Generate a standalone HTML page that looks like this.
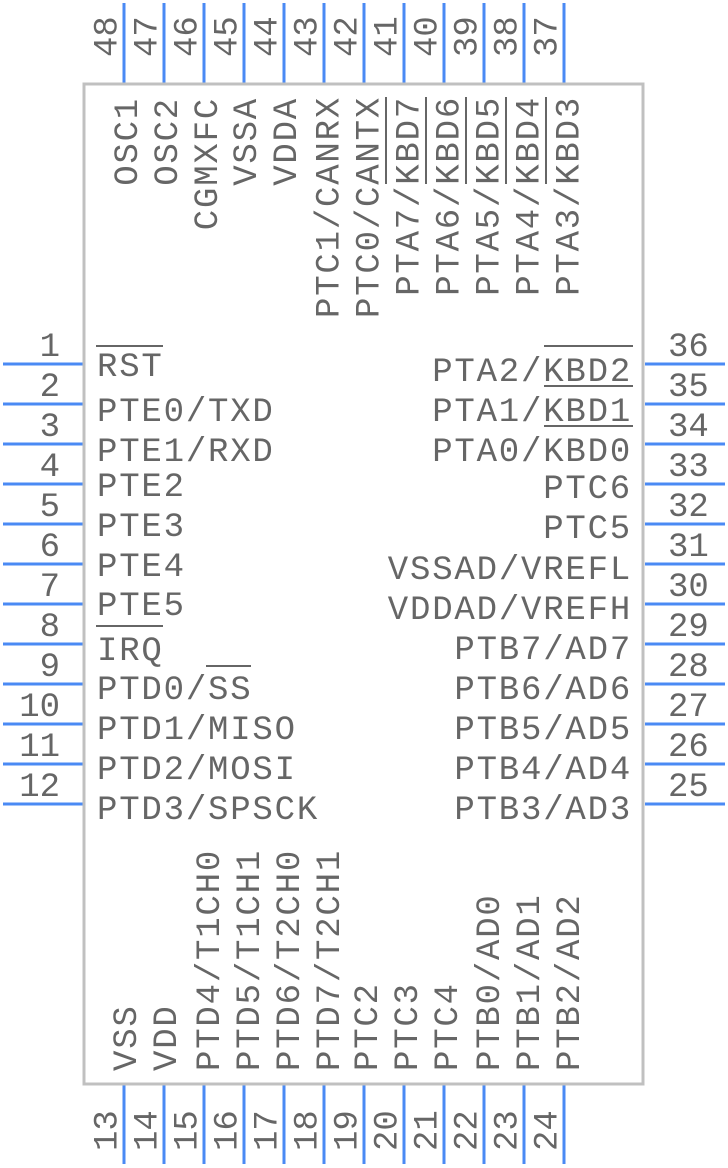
<!DOCTYPE html>
<html>
<head>
<meta charset="utf-8">
<style>
  html, body { margin: 0; padding: 0; background: #ffffff; }
  svg { display: block; }
  .lbl { font-family: "Liberation Mono", "DejaVu Sans Mono", monospace; font-size: 34px; letter-spacing: 1.8px; fill: #666666; }
  .num { font-family: "Liberation Mono", "DejaVu Sans Mono", monospace; font-size: 34px; fill: #666666; }
  .pin { stroke: #4a8af4; stroke-width: 3; }
  .ob { stroke: #666666; stroke-width: 2; }
</style>
</head>
<body>
<svg width="728" height="1168" viewBox="0 0 728 1168" xmlns="http://www.w3.org/2000/svg">
  <rect x="0" y="0" width="728" height="1168" fill="#ffffff"/>

  <!-- Left pins -->
  <g class="pin">
    <line x1="3" y1="364" x2="83" y2="364"/>
    <line x1="3" y1="404" x2="83" y2="404"/>
    <line x1="3" y1="444" x2="83" y2="444"/>
    <line x1="3" y1="484" x2="83" y2="484"/>
    <line x1="3" y1="524" x2="83" y2="524"/>
    <line x1="3" y1="564" x2="83" y2="564"/>
    <line x1="3" y1="604" x2="83" y2="604"/>
    <line x1="3" y1="644" x2="83" y2="644"/>
    <line x1="3" y1="684" x2="83" y2="684"/>
    <line x1="3" y1="724" x2="83" y2="724"/>
    <line x1="3" y1="764" x2="83" y2="764"/>
    <line x1="3" y1="804" x2="83" y2="804"/>
  </g>
  <!-- Right pins -->
  <g class="pin">
    <line x1="645" y1="364" x2="725" y2="364"/>
    <line x1="645" y1="404" x2="725" y2="404"/>
    <line x1="645" y1="444" x2="725" y2="444"/>
    <line x1="645" y1="484" x2="725" y2="484"/>
    <line x1="645" y1="524" x2="725" y2="524"/>
    <line x1="645" y1="564" x2="725" y2="564"/>
    <line x1="645" y1="604" x2="725" y2="604"/>
    <line x1="645" y1="644" x2="725" y2="644"/>
    <line x1="645" y1="684" x2="725" y2="684"/>
    <line x1="645" y1="724" x2="725" y2="724"/>
    <line x1="645" y1="764" x2="725" y2="764"/>
    <line x1="645" y1="804" x2="725" y2="804"/>
  </g>
  <!-- Top pins -->
  <g class="pin">
    <line x1="124" y1="3" x2="124" y2="83"/>
    <line x1="164" y1="3" x2="164" y2="83"/>
    <line x1="204" y1="3" x2="204" y2="83"/>
    <line x1="244" y1="3" x2="244" y2="83"/>
    <line x1="284" y1="3" x2="284" y2="83"/>
    <line x1="324" y1="3" x2="324" y2="83"/>
    <line x1="364" y1="3" x2="364" y2="83"/>
    <line x1="404" y1="3" x2="404" y2="83"/>
    <line x1="444" y1="3" x2="444" y2="83"/>
    <line x1="484" y1="3" x2="484" y2="83"/>
    <line x1="524" y1="3" x2="524" y2="83"/>
    <line x1="564" y1="3" x2="564" y2="83"/>
  </g>
  <!-- Bottom pins -->
  <g class="pin">
    <line x1="124" y1="1085" x2="124" y2="1164"/>
    <line x1="164" y1="1085" x2="164" y2="1164"/>
    <line x1="204" y1="1085" x2="204" y2="1164"/>
    <line x1="244" y1="1085" x2="244" y2="1164"/>
    <line x1="284" y1="1085" x2="284" y2="1164"/>
    <line x1="324" y1="1085" x2="324" y2="1164"/>
    <line x1="364" y1="1085" x2="364" y2="1164"/>
    <line x1="404" y1="1085" x2="404" y2="1164"/>
    <line x1="444" y1="1085" x2="444" y2="1164"/>
    <line x1="484" y1="1085" x2="484" y2="1164"/>
    <line x1="524" y1="1085" x2="524" y2="1164"/>
    <line x1="564" y1="1085" x2="564" y2="1164"/>
  </g>

  <!-- Body -->
  <rect x="84" y="84" width="559" height="1000" fill="#ffffff" stroke="#c0c0c0" stroke-width="3"/>

  <!-- Left pin numbers -->
  <g class="num" text-anchor="end">
    <text x="60" y="356">1</text>
    <text x="60" y="396">2</text>
    <text x="60" y="436">3</text>
    <text x="60" y="476">4</text>
    <text x="60" y="516">5</text>
    <text x="60" y="556">6</text>
    <text x="60" y="596">7</text>
    <text x="60" y="636">8</text>
    <text x="60" y="676">9</text>
    <text x="60" y="716">10</text>
    <text x="60" y="756">11</text>
    <text x="60" y="796">12</text>
  </g>
  <!-- Right pin numbers -->
  <g class="num">
    <text x="668" y="356">36</text>
    <text x="668" y="396">35</text>
    <text x="668" y="436">34</text>
    <text x="668" y="476">33</text>
    <text x="668" y="516">32</text>
    <text x="668" y="556">31</text>
    <text x="668" y="596">30</text>
    <text x="668" y="636">29</text>
    <text x="668" y="676">28</text>
    <text x="668" y="716">27</text>
    <text x="668" y="756">26</text>
    <text x="668" y="796">25</text>
  </g>
  <!-- Top pin numbers -->
  <g class="num">
    <text transform="translate(116.5,57) rotate(-90)">48</text>
    <text transform="translate(156.5,57) rotate(-90)">47</text>
    <text transform="translate(196.5,57) rotate(-90)">46</text>
    <text transform="translate(236.5,57) rotate(-90)">45</text>
    <text transform="translate(276.5,57) rotate(-90)">44</text>
    <text transform="translate(316.5,57) rotate(-90)">43</text>
    <text transform="translate(356.5,57) rotate(-90)">42</text>
    <text transform="translate(396.5,57) rotate(-90)">41</text>
    <text transform="translate(436.5,57) rotate(-90)">40</text>
    <text transform="translate(476.5,57) rotate(-90)">39</text>
    <text transform="translate(516.5,57) rotate(-90)">38</text>
    <text transform="translate(556.5,57) rotate(-90)">37</text>
  </g>
  <!-- Bottom pin numbers -->
  <g class="num">
    <text transform="translate(116.5,1151) rotate(-90)">13</text>
    <text transform="translate(156.5,1151) rotate(-90)">14</text>
    <text transform="translate(196.5,1151) rotate(-90)">15</text>
    <text transform="translate(236.5,1151) rotate(-90)">16</text>
    <text transform="translate(276.5,1151) rotate(-90)">17</text>
    <text transform="translate(316.5,1151) rotate(-90)">18</text>
    <text transform="translate(356.5,1151) rotate(-90)">19</text>
    <text transform="translate(396.5,1151) rotate(-90)">20</text>
    <text transform="translate(436.5,1151) rotate(-90)">21</text>
    <text transform="translate(476.5,1151) rotate(-90)">22</text>
    <text transform="translate(516.5,1151) rotate(-90)">23</text>
    <text transform="translate(556.5,1151) rotate(-90)">24</text>
  </g>

  <!-- Left labels -->
  <g class="lbl">
    <text x="97" y="376">RST</text>
    <text x="97" y="421">PTE0/TXD</text>
    <text x="97" y="461">PTE1/RXD</text>
    <text x="97" y="496">PTE2</text>
    <text x="97" y="536">PTE3</text>
    <text x="97" y="576">PTE4</text>
    <text x="97" y="615">PTE5</text>
    <text x="97" y="660">IRQ</text>
    <text x="97" y="699">PTD0/SS</text>
    <text x="97" y="739">PTD1/MISO</text>
    <text x="97" y="779">PTD2/MOSI</text>
    <text x="97" y="819">PTD3/SPSCK</text>
  </g>
  <!-- Right labels -->
  <g class="lbl">
    <text x="432.2" y="381">PTA2/KBD2</text>
    <text x="432.2" y="421">PTA1/KBD1</text>
    <text x="432.2" y="461">PTA0/KBD0</text>
    <text x="543.2" y="498">PTC6</text>
    <text x="543.2" y="538">PTC5</text>
    <text x="387.8" y="579">VSSAD/VREFL</text>
    <text x="387.8" y="619">VDDAD/VREFH</text>
    <text x="454.4" y="659">PTB7/AD7</text>
    <text x="454.4" y="699">PTB6/AD6</text>
    <text x="454.4" y="739">PTB5/AD5</text>
    <text x="454.4" y="779">PTB4/AD4</text>
    <text x="454.4" y="819">PTB3/AD3</text>
  </g>
  <!-- Top labels -->
  <g class="lbl">
    <text transform="translate(137,185.8) rotate(-90)">OSC1</text>
    <text transform="translate(177,185.8) rotate(-90)">OSC2</text>
    <text transform="translate(217,230.2) rotate(-90)">CGMXFC</text>
    <text transform="translate(256,185.8) rotate(-90)">VSSA</text>
    <text transform="translate(296,185.8) rotate(-90)">VDDA</text>
    <text transform="translate(338.5,318) rotate(-90)">PTC1/CANRX</text>
    <text transform="translate(378.5,318) rotate(-90)">PTC0/CANTX</text>
    <text transform="translate(418.5,295.8) rotate(-90)">PTA7/KBD7</text>
    <text transform="translate(458.5,295.8) rotate(-90)">PTA6/KBD6</text>
    <text transform="translate(498.5,295.8) rotate(-90)">PTA5/KBD5</text>
    <text transform="translate(538.5,295.8) rotate(-90)">PTA4/KBD4</text>
    <text transform="translate(578.5,295.8) rotate(-90)">PTA3/KBD3</text>
  </g>
  <!-- Bottom labels -->
  <g class="lbl">
    <text transform="translate(136,1071) rotate(-90)">VSS</text>
    <text transform="translate(176,1071) rotate(-90)">VDD</text>
    <text transform="translate(219,1071) rotate(-90)">PTD4/T1CH0</text>
    <text transform="translate(259,1071) rotate(-90)">PTD5/T1CH1</text>
    <text transform="translate(299,1071) rotate(-90)">PTD6/T2CH0</text>
    <text transform="translate(339,1071) rotate(-90)">PTD7/T2CH1</text>
    <text transform="translate(377,1071) rotate(-90)">PTC2</text>
    <text transform="translate(417,1071) rotate(-90)">PTC3</text>
    <text transform="translate(457,1071) rotate(-90)">PTC4</text>
    <text transform="translate(499,1071) rotate(-90)">PTB0/AD0</text>
    <text transform="translate(539,1071) rotate(-90)">PTB1/AD1</text>
    <text transform="translate(579,1071) rotate(-90)">PTB2/AD2</text>
  </g>

  <!-- Overbars -->
  <g class="ob">
    <line x1="96" y1="346" x2="163" y2="346"/>
    <line x1="96" y1="626" x2="163" y2="626"/>
    <line x1="206" y1="666" x2="251" y2="666"/>
    <line x1="544" y1="346" x2="633" y2="346"/>
    <line x1="544" y1="386" x2="633" y2="386"/>
    <line x1="544" y1="426" x2="633" y2="426"/>
    <line x1="386" y1="97" x2="386" y2="184"/>
    <line x1="426" y1="97" x2="426" y2="184"/>
    <line x1="466" y1="97" x2="466" y2="184"/>
    <line x1="506" y1="97" x2="506" y2="184"/>
    <line x1="546" y1="97" x2="546" y2="184"/>
  </g>
</svg>
</body>
</html>
